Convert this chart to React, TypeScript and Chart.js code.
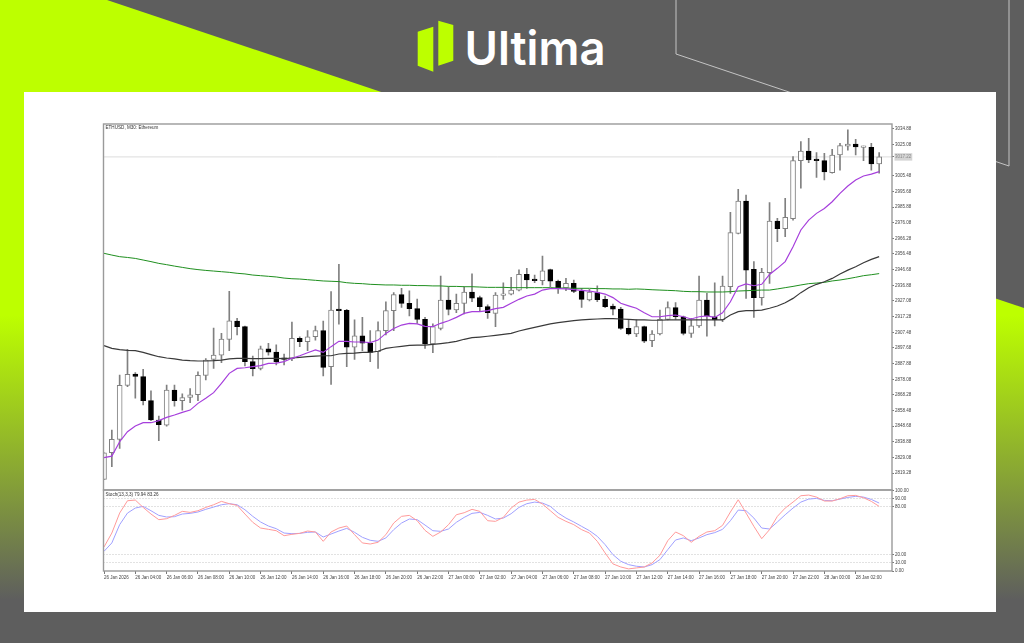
import React, { useEffect, useRef } from "react";
import { Chart, registerables } from "chart.js";

Chart.register(...registerables);

const LIME = "#bdff00";
const GRAY = "#5e5e5e";

const chartTitle = "ETHUSD, M30: Ethereum";
const stochTitle = "Stoch(13,3,3) 79.94 83.26";
const lastPrice = 3017.22;

const timeLabels = [
  "26 Jan 2026", "26 Jan 04:00", "26 Jan 06:00", "26 Jan 08:00", "26 Jan 10:00", "26 Jan 12:00", "26 Jan 14:00",
  "26 Jan 16:00", "26 Jan 18:00", "26 Jan 20:00", "26 Jan 22:00", "27 Jan 00:00", "27 Jan 02:00", "27 Jan 04:00",
  "27 Jan 06:00", "27 Jan 08:00", "27 Jan 10:00", "27 Jan 12:00", "27 Jan 14:00", "27 Jan 16:00", "27 Jan 18:00",
  "27 Jan 20:00", "27 Jan 22:00", "28 Jan 00:00", "28 Jan 02:00",
];
const priceTicks = [
  3034.88, 3025.08, lastPrice, 3005.48, 2995.68, 2985.88, 2976.08, 2966.28, 2956.48, 2946.68, 2936.88, 2927.08,
  2917.28, 2907.48, 2897.68, 2887.88, 2878.08, 2868.28, 2858.48, 2848.68, 2838.88, 2829.08, 2819.28,
];
const stochTicks = [100, 90, 80, 20, 10, 0];
const stochLevels = [90, 80, 20, 10];

const opens = [
  2815.4, 2832.1, 2840.5, 2874.3, 2881.4, 2879.7, 2864.7, 2852.6, 2849.4, 2871.3,
  2864.7, 2866.8, 2868.4, 2880.5, 2890.5, 2893.2, 2903.0, 2914.5, 2911.0, 2889.1,
  2884.9, 2897.2, 2895.1, 2891.0, 2891.0, 2903.7, 2901.6, 2904.7, 2908.5, 2886.0,
  2921.8, 2921.2, 2898.1, 2905.3, 2900.6, 2895.3, 2908.5, 2921.0, 2931.0, 2925.6,
  2922.3, 2915.6, 2900.2, 2909.9, 2927.7, 2921.4, 2925.6, 2932.7, 2929.2, 2923.5,
  2919.3, 2930.6, 2931.4, 2933.9, 2943.7, 2940.2, 2939.8, 2946.7, 2939.4, 2935.2,
  2938.1, 2933.1, 2927.7, 2932.3, 2928.1, 2923.9, 2922.0, 2909.9, 2906.4, 2911.0,
  2902.2, 2906.4, 2915.6, 2922.9, 2917.2, 2906.8, 2911.4, 2927.7, 2917.2, 2915.2,
  2936.0, 2969.4, 2989.6, 2946.9, 2929.1, 2944.8, 2977.1, 2972.3, 2978.6, 3014.9,
  3020.9, 3015.5, 3014.9, 3007.4, 3018.4, 3024.0, 3025.3, 3023.2, 3023.2, 3012.8,
];
const highs = [
  2832.1, 2846.3, 2880.7, 2896.8, 2882.2, 2884.3, 2870.9, 2855.1, 2874.5, 2874.5,
  2868.9, 2872.2, 2882.8, 2891.0, 2910.1, 2906.8, 2933.1, 2916.2, 2911.4, 2892.6,
  2898.9, 2900.6, 2899.7, 2893.9, 2913.9, 2904.7, 2908.5, 2911.4, 2914.5, 2932.9,
  2950.0, 2921.8, 2915.2, 2916.8, 2908.5, 2914.1, 2926.6, 2932.3, 2935.0, 2933.5,
  2928.3, 2916.8, 2912.7, 2942.7, 2936.0, 2931.4, 2936.0, 2944.0, 2930.2, 2924.6,
  2932.3, 2938.5, 2941.9, 2946.5, 2947.5, 2943.3, 2955.2, 2947.1, 2940.2, 2941.2,
  2940.2, 2935.0, 2934.4, 2936.5, 2930.2, 2925.2, 2923.1, 2915.2, 2915.2, 2911.4,
  2908.5, 2921.4, 2926.6, 2926.0, 2917.7, 2916.2, 2942.7, 2931.8, 2938.5, 2942.7,
  2982.5, 2996.9, 2993.4, 2951.7, 2947.5, 2988.6, 2978.8, 2991.3, 3017.4, 3026.8,
  3028.8, 3019.9, 3019.5, 3022.0, 3025.7, 3034.1, 3028.2, 3024.0, 3025.7, 3019.9,
];
const lows = [
  2815.4, 2823.4, 2834.8, 2873.4, 2866.2, 2862.0, 2852.2, 2839.6, 2848.8, 2861.3,
  2858.8, 2863.4, 2864.7, 2877.6, 2884.9, 2888.5, 2896.0, 2905.8, 2886.4, 2880.1,
  2883.9, 2893.2, 2887.0, 2887.0, 2889.7, 2898.5, 2896.0, 2902.6, 2880.1, 2874.9,
  2912.6, 2886.0, 2890.5, 2896.0, 2889.1, 2884.9, 2905.8, 2908.5, 2923.1, 2917.7,
  2913.1, 2897.4, 2894.7, 2908.9, 2918.3, 2919.8, 2918.9, 2926.6, 2921.0, 2916.2,
  2911.0, 2928.1, 2930.8, 2933.3, 2935.0, 2938.5, 2937.1, 2936.0, 2931.8, 2933.5,
  2932.3, 2923.1, 2927.1, 2926.6, 2922.9, 2918.3, 2909.3, 2905.8, 2904.7, 2901.0,
  2898.5, 2905.8, 2915.2, 2915.6, 2905.8, 2904.3, 2910.6, 2905.1, 2911.4, 2914.1,
  2931.8, 2969.0, 2928.7, 2916.8, 2924.5, 2938.1, 2964.2, 2967.3, 2977.7, 2997.6,
  3013.6, 3004.4, 3002.8, 3007.0, 3009.0, 3021.5, 3018.4, 3014.9, 3009.0, 3007.0,
];
const closes = [
  2832.1, 2840.5, 2874.3, 2881.2, 2879.9, 2864.7, 2852.6, 2849.7, 2871.3, 2864.7,
  2866.6, 2868.4, 2880.5, 2890.1, 2893.2, 2903.3, 2914.7, 2911.0, 2889.1, 2884.7,
  2897.2, 2895.1, 2888.9, 2890.5, 2903.7, 2901.6, 2904.7, 2908.5, 2885.5, 2921.4,
  2921.0, 2898.1, 2905.3, 2900.6, 2894.9, 2908.5, 2921.0, 2931.0, 2925.6, 2922.3,
  2915.6, 2900.2, 2911.0, 2927.7, 2921.8, 2925.6, 2932.7, 2928.8, 2923.5, 2919.8,
  2930.8, 2931.4, 2933.9, 2943.7, 2940.2, 2939.8, 2946.0, 2939.4, 2935.0, 2938.1,
  2933.1, 2928.1, 2932.7, 2927.9, 2923.5, 2922.0, 2909.9, 2906.4, 2911.0, 2902.0,
  2906.4, 2915.6, 2922.9, 2917.2, 2906.8, 2911.6, 2927.7, 2917.7, 2915.2, 2936.4,
  2969.8, 2989.6, 2946.4, 2929.1, 2945.0, 2977.1, 2972.3, 2979.4, 3014.9, 3020.9,
  3015.3, 3014.9, 3007.8, 3018.4, 3024.3, 3025.3, 3023.4, 3023.6, 3012.8, 3017.2,
];

const maFast = [
  2829.0, 2830.0, 2839.0, 2845.3, 2848.8, 2850.9, 2850.9, 2852.2, 2854.2, 2855.7,
  2857.4, 2858.8, 2863.0, 2866.2, 2869.7, 2875.5, 2881.8, 2884.9, 2885.3, 2886.0,
  2886.6, 2888.0, 2888.2, 2889.1, 2891.2, 2892.8, 2894.7, 2896.4, 2894.9, 2898.5,
  2901.8, 2901.8, 2901.4, 2901.4, 2901.0, 2902.6, 2906.8, 2909.9, 2912.0, 2913.1,
  2912.7, 2911.2, 2911.0, 2913.1, 2914.7, 2916.8, 2919.3, 2920.4, 2920.4, 2921.0,
  2922.3, 2923.1, 2925.6, 2928.1, 2930.2, 2931.4, 2933.9, 2934.8, 2934.8, 2934.6,
  2934.2, 2933.7, 2933.3, 2932.5, 2931.4, 2929.2, 2925.6, 2924.0, 2922.5, 2919.7,
  2917.2, 2917.2, 2917.9, 2918.3, 2917.2, 2915.8, 2917.2, 2917.7, 2916.8, 2919.7,
  2926.6, 2936.0, 2937.7, 2936.6, 2937.5, 2943.7, 2947.5, 2951.7, 2961.0, 2971.5,
  2977.7, 2981.9, 2985.0, 2989.2, 2994.4, 2999.0, 3002.8, 3005.3, 3006.5, 3008.0,
];
const maMid = [
  2899.1, 2897.4, 2896.6, 2896.2, 2896.0, 2894.9, 2893.5, 2892.2, 2891.4, 2890.8,
  2890.1, 2889.7, 2889.5, 2889.5, 2889.7, 2890.1, 2890.8, 2891.2, 2891.2, 2891.0,
  2891.0, 2891.2, 2891.2, 2891.0, 2891.4, 2891.8, 2892.2, 2892.6, 2892.8, 2892.8,
  2893.9, 2894.3, 2894.5, 2894.9, 2894.9, 2895.6, 2897.4, 2898.1, 2898.7, 2899.3,
  2899.5, 2899.5, 2899.9, 2900.4, 2901.0, 2901.8, 2903.1, 2904.1, 2904.5, 2905.0,
  2905.6, 2906.2, 2906.8, 2908.3, 2909.5, 2910.6, 2911.6, 2912.7, 2913.5, 2914.1,
  2914.8, 2915.2, 2915.6, 2915.8, 2916.0, 2916.0, 2915.8, 2915.6, 2915.2, 2915.2,
  2915.0, 2915.0, 2915.2, 2915.2, 2915.2, 2915.2, 2915.2, 2915.2, 2915.2, 2915.2,
  2918.3, 2920.4, 2921.0, 2921.0, 2921.4, 2922.5, 2923.9, 2926.0, 2928.7, 2932.3,
  2935.4, 2937.5, 2939.1, 2941.2, 2943.9, 2946.4, 2948.5, 2951.0, 2953.1, 2954.8,
];
const maSlow = [
  2956.9, 2955.8, 2954.8, 2954.3, 2953.7, 2952.7, 2951.7, 2950.6, 2949.8, 2948.9,
  2948.1, 2947.3, 2946.7, 2946.2, 2945.8, 2945.4, 2945.0, 2944.4, 2944.0, 2943.3,
  2942.9, 2942.5, 2942.1, 2941.4, 2941.0, 2940.8, 2940.4, 2940.0, 2939.6, 2939.4,
  2939.2, 2938.5, 2938.1, 2937.9, 2937.5, 2937.3, 2937.1, 2937.1, 2936.9, 2936.9,
  2936.7, 2936.7, 2936.5, 2936.5, 2936.2, 2936.2, 2936.0, 2936.0, 2935.8, 2935.6,
  2935.6, 2935.6, 2935.4, 2935.4, 2935.4, 2935.4, 2935.4, 2935.4, 2935.2, 2935.2,
  2935.0, 2935.0, 2935.0, 2934.8, 2934.8, 2934.6, 2934.6, 2934.4, 2934.6, 2934.4,
  2934.1, 2933.9, 2933.7, 2933.5, 2933.1, 2932.9, 2932.9, 2932.7, 2932.7, 2932.7,
  2932.9, 2933.3, 2933.5, 2933.7, 2933.9, 2933.9, 2934.6, 2935.4, 2936.2, 2937.1,
  2937.9, 2938.3, 2938.7, 2939.6, 2940.2, 2941.0, 2941.9, 2942.9, 2943.5, 2944.2,
];

const stochMain = [
  29.8, 47.1, 71.9, 87.2, 88.0, 78.9, 70.7, 63.7, 64.9, 69.0,
  74.0, 72.7, 74.8, 78.9, 82.2, 86.4, 83.5, 81.4, 70.7, 60.4,
  53.3, 51.7, 50.0, 43.8, 45.5, 46.7, 49.6, 48.4, 36.8, 48.4,
  53.3, 55.8, 45.1, 34.8, 33.5, 35.6, 45.1, 59.5, 67.8, 69.0,
  62.4, 50.4, 43.0, 48.4, 57.5, 69.8, 72.3, 76.5, 74.0, 62.4,
  61.6, 66.5, 78.1, 85.5, 88.0, 88.8, 83.1, 74.8, 66.5, 61.6,
  57.5, 51.3, 47.1, 36.8, 22.4, 8.8, 5.0, 2.6, 3.8, 5.0,
  10.0, 19.5, 37.6, 48.4, 43.8, 35.6, 43.0, 48.4, 50.0, 56.6,
  73.2, 88.4, 71.9, 55.4, 40.1, 51.3, 67.8, 78.1, 85.5, 93.4,
  94.2, 91.7, 86.8, 86.8, 89.7, 93.4, 93.8, 90.9, 86.4, 80.2,
];
const stochSignal = [
  24.4, 34.8, 57.5, 71.9, 78.1, 80.2, 74.8, 69.0, 67.0, 67.4,
  70.7, 71.5, 73.2, 76.5, 79.3, 82.2, 83.5, 82.2, 76.0, 67.8,
  60.8, 55.8, 52.5, 47.1, 46.3, 46.7, 48.0, 48.4, 42.2, 45.9,
  49.6, 52.9, 48.0, 41.8, 38.1, 36.8, 41.0, 51.3, 59.5, 64.5,
  63.7, 57.0, 50.0, 49.2, 52.1, 60.4, 66.5, 71.5, 72.7, 69.0,
  64.5, 65.7, 71.1, 78.9, 83.5, 85.5, 84.3, 80.2, 71.9, 65.7,
  60.8, 55.4, 50.0, 43.0, 32.7, 20.3, 12.1, 7.9, 5.9, 5.0,
  7.9, 14.1, 26.5, 38.5, 41.0, 37.6, 41.0, 45.1, 47.6, 51.7,
  62.4, 75.6, 74.8, 65.7, 53.3, 52.1, 60.8, 69.8, 78.1, 85.5,
  89.2, 90.1, 87.6, 87.2, 89.2, 91.3, 92.6, 91.7, 88.8, 84.3,
];

const FONT = "'Liberation Sans'";
const AXIS_TEXT = "#444";
const FRAME = "#9a9a9a";

const paneDecor = {
  id: "paneDecor",
  afterDraw(chart: any) {
    const { ctx, scales } = chart;
    ctx.save();
    ctx.strokeStyle = FRAME;
    ctx.lineWidth = 1.4;
    const xs = scales.x;
    for (const s of [scales.y, scales.ys]) {
      ctx.strokeRect(xs.left, s.top, xs.right - xs.left, s.bottom - s.top);
    }
    ctx.fillStyle = "#333";
    ctx.font = `4.6px ${FONT}`;
    ctx.textBaseline = "middle";
    ctx.fillText(chartTitle, xs.left + 2, scales.y.top + 4);
    ctx.fillText(stochTitle, xs.left + 2, scales.ys.top + 4.5);
    ctx.restore();
  },
};

function App() {
  const ref = useRef<HTMLCanvasElement | null>(null);

  useEffect(() => {
    const idx = opens.map((_, i) => i);
    const series = (a: number[]) => idx.map((i) => ({ x: i, y: a[i] }));
    const up = idx.map((i) => closes[i] >= opens[i]);
    const line = (label: string, data: number[], color: string, yAxisID: string, width: number) => ({
      type: "line",
      label,
      data: series(data),
      borderColor: color,
      borderWidth: width,
      pointRadius: 0,
      tension: 0,
      yAxisID,
      order: 0,
    });
    const axisFont = { family: FONT, size: 4.5 };
    const chart = new Chart(ref.current as HTMLCanvasElement, {
      data: {
        datasets: [
          {
            type: "line",
            label: "Last price",
            data: [
              { x: -1, y: lastPrice },
              { x: 102, y: lastPrice },
            ],
            borderColor: "#dcdcdc",
            borderWidth: 1,
            pointRadius: 0,
            yAxisID: "y",
            order: 4,
          },
          {
            type: "bar",
            label: "Wicks",
            data: idx.map((i) => ({ x: i, y: [lows[i], highs[i]] })),
            backgroundColor: "#808080",
            borderWidth: 0,
            barThickness: 1,
            grouped: false,
            yAxisID: "y",
            order: 3,
          },
          {
            type: "bar",
            label: "Bodies",
            data: idx.map((i) => ({ x: i, y: [opens[i], closes[i]] })),
            backgroundColor: up.map((u) => (u ? "#ffffff" : "#000000")),
            borderColor: up.map((u) => (u ? "#808080" : "#000000")),
            borderWidth: 1,
            borderSkipped: false,
            barThickness: 5,
            minBarLength: 1.5,
            grouped: false,
            yAxisID: "y",
            order: 2,
          },
          line("MA fast", maFast, "#a63fdc", "y", 1.2),
          line("MA mid", maMid, "#3a3a3a", "y", 1.2),
          line("MA slow", maSlow, "#1f8f1f", "y", 1),
          line("Stoch main", stochMain, "#ff9a9a", "ys", 1),
          line("Stoch signal", stochSignal, "#a0a0ff", "ys", 1),
        ],
      },
      options: {
        responsive: false,
        maintainAspectRatio: false,
        animation: false,
        devicePixelRatio: 1,
        layout: { padding: { left: 79.5, right: 74, top: 32, bottom: 29 } },
        plugins: { legend: { display: false }, tooltip: { enabled: false } },
        scales: {
          x: {
            type: "linear",
            offset: false,
            min: -0.064,
            max: 100.64,
            border: { display: false },
            grid: { display: true, offset: false, drawOnChartArea: false, tickLength: 3, tickColor: "#777", lineWidth: 1 },
            afterBuildTicks: (s: any) => {
              s.ticks = timeLabels.map((_, i) => ({ value: i * 4 }));
            },
            afterFit: (s: any) => {
              s.height = 12;
            },
            ticks: {
              autoSkip: false,
              maxRotation: 0,
              align: "start",
              padding: 1,
              color: AXIS_TEXT,
              font: axisFont,
              callback: (v: number) => timeLabels[v / 4],
            },
          },
          y: {
            type: "linear",
            position: "right",
            stack: "panes",
            stackWeight: 366,
            weight: 1,
            min: 2808.79,
            max: 3037.82,
            border: { display: false },
            grid: { display: true, drawOnChartArea: false, tickLength: 2, tickColor: "#777" },
            afterBuildTicks: (s: any) => {
              s.ticks = priceTicks.map((value) => ({ value }));
            },
            afterFit: (s: any) => {
              s.width = 30;
            },
            ticks: {
              autoSkip: false,
              padding: 1,
              font: axisFont,
              color: (c: any) => (c.tick && c.tick.value === lastPrice ? "#8a8a8a" : AXIS_TEXT),
              showLabelBackdrop: (c: any) => !!c.tick && c.tick.value === lastPrice,
              backdropColor: "#d4d4d4",
              backdropPadding: { left: 0.5, right: 1, top: 1, bottom: 1 },
              callback: (v: number) => v.toFixed(2),
            },
          },
          ys: {
            type: "linear",
            position: "right",
            stack: "panes",
            stackWeight: 81,
            weight: 2,
            min: 0,
            max: 100.5,
            border: { display: false, dash: [1, 2] },
            grid: {
              display: true,
              drawOnChartArea: true,
              tickLength: 2,
              tickColor: "#777",
              color: (c: any) => (c.tick && stochLevels.includes(c.tick.value) ? "#c4c4c4" : "rgba(0,0,0,0)"),
            },
            afterBuildTicks: (s: any) => {
              s.ticks = stochTicks.map((value) => ({ value }));
            },
            afterFit: (s: any) => {
              s.width = 30;
            },
            ticks: {
              autoSkip: false,
              padding: 1,
              color: AXIS_TEXT,
              font: axisFont,
              callback: (v: number) => v.toFixed(2),
            },
          },
        },
      },
      plugins: [paneDecor],
    } as any);
    return () => chart.destroy();
  }, []);

  return (
    <div style={{ position: "absolute", left: 0, top: 0, width: 1024, height: 643, overflow: "hidden", background: GRAY }}>
      <div
        style={{
          position: "absolute",
          inset: 0,
          background: `linear-gradient(to bottom, ${LIME} 0, ${LIME} 315px, ${GRAY} 600px)`,
          clipPath: "polygon(0 0, 107px 0, 1024px 308px, 1024px 643px, 0 643px)",
        }}
      />
      <svg width={1024} height={643} style={{ position: "absolute", left: 0, top: 0 }}>
        <polyline points="676,0 676,54 1009,166 1009,0" fill="none" stroke="#c4c4c4" strokeWidth={1} />
        <polygon points="417.7,31.7 433.3,26.7 433.3,71.7 417.7,65.7" fill={LIME} />
        <polygon points="438.3,20.7 453.3,25 453.3,60.7 438.3,65.7" fill={LIME} />
        <text
          x={464.5}
          y={64.5}
          fill="#ffffff"
          textLength={141}
          lengthAdjust="spacingAndGlyphs"
          style={{ fontFamily: "Inter", fontWeight: 600, fontSize: 47 }}
        >
          Ultima
        </text>
      </svg>
      <div style={{ position: "absolute", left: 24, top: 92, width: 972, height: 520, background: "#ffffff" }}>
        <canvas ref={ref} width={972} height={520} style={{ display: "block", width: 972, height: 520, filter: "blur(0.4px)" }} />
      </div>
    </div>
  );
}

export default App;
